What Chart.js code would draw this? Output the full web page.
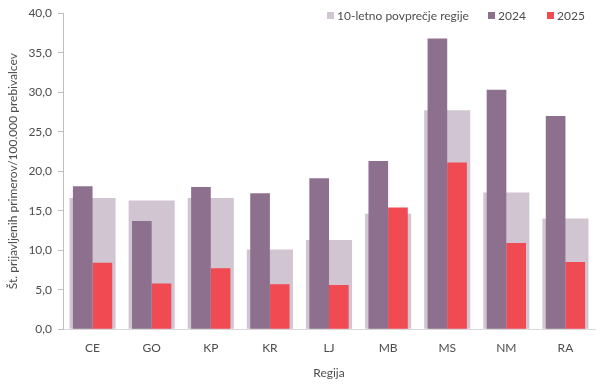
<!DOCTYPE html>
<html>
<head>
<meta charset="utf-8">
<script src="https://cdn.jsdelivr.net/npm/chart.js@4/dist/chart.umd.min.js"></script>
<style>
  html, body { margin: 0; padding: 0; background: #fff; }
  #wrap { position: relative; width: 612px; height: 388px; }
  #legend { position: absolute; top: 8px; left: 0; width: 612px; height: 16px; font-family: Lato, sans-serif; font-size: 12px; color: #4d4d4d; }
  #legend .item { position: absolute; top: 0; display: flex; align-items: center; white-space: nowrap; }
  #legend .box { width: 7px; height: 7px; margin-right: 3px; }
</style>
</head>
<body>
<div id="wrap">
  <canvas id="c" width="612" height="388"></canvas>
  <div id="legend"></div>
</div>
<script>
const categories = ['CE', 'GO', 'KP', 'KR', 'LJ', 'MB', 'MS', 'NM', 'RA'];
const avg10 = [16.6, 16.3, 16.6, 10.1, 11.3, 14.6, 27.7, 17.3, 14.0];
const values2024 = [18.1, 13.7, 18.0, 17.2, 19.1, 21.3, 36.8, 30.3, 27.0];
const values2025 = [8.4, 5.8, 7.7, 5.7, 5.6, 15.4, 21.1, 10.9, 8.5];
const seriesLabels = ['10-letno povprečje regije', '2024', '2025'];
const seriesColors = ['#d1c5d2', '#8c708e', '#f04a52'];
const yTicks = [0, 5, 10, 15, 20, 25, 30, 35, 40];

const FONT = 'Lato, sans-serif';
const TXT = '#4d4d4d';

new Chart(document.getElementById('c'), {
  type: 'bar',
  data: {
    labels: categories,
    datasets: [
      { label: seriesLabels[0], data: avg10, backgroundColor: seriesColors[0], grouped: false, categoryPercentage: 1, barPercentage: 0.78, order: 1 },
      { label: seriesLabels[1], data: values2024, backgroundColor: seriesColors[1], categoryPercentage: 0.665, barPercentage: 1, order: 0 },
      { label: seriesLabels[2], data: values2025, backgroundColor: seriesColors[2], categoryPercentage: 0.665, barPercentage: 1, order: 0 }
    ]
  },
  options: {
    responsive: false,
    animation: false,
    layout: { padding: { left: 6, right: 17, top: 3, bottom: 8 } },
    plugins: { legend: { display: false }, tooltip: { enabled: false } },
    scales: {
      x: {
        grid: { display: false, drawTicks: false },
        border: { display: true, color: '#d9d9d9', width: 1 },
        ticks: { color: TXT, font: { family: FONT, size: 12 }, padding: 12 },
        title: { display: true, text: 'Regija', color: TXT, font: { family: FONT, size: 12 }, padding: { top: -2, bottom: 0 } }
      },
      y: {
        min: 0, max: 40,
        afterBuildTicks: (axis) => { axis.ticks = yTicks.map(v => ({ value: v })); },
        grid: { drawOnChartArea: false, drawTicks: true, tickLength: 5, color: '#bfbfbf' },
        border: { display: true, color: '#bfbfbf', width: 1 },
        ticks: {
          color: TXT, font: { family: FONT, size: 12 }, padding: 6,
          callback: (v) => Number(v).toFixed(1).replace('.', ',')
        },
        title: { display: true, text: 'Št. prijavljenih primerov/100.000 prebivalcev', color: TXT, font: { family: FONT, size: 12 }, padding: { top: 0, bottom: 2 } }
      }
    }
  }
});

const legendLefts = [327, 488, 547];
const legend = document.getElementById('legend');
seriesLabels.forEach((lab, i) => {
  const it = document.createElement('div');
  it.className = 'item';
  it.style.left = legendLefts[i] + 'px';
  const b = document.createElement('div');
  b.className = 'box';
  b.style.background = seriesColors[i];
  const t = document.createElement('span');
  t.textContent = lab;
  it.appendChild(b); it.appendChild(t);
  legend.appendChild(it);
});
</script>
</body>
</html>
